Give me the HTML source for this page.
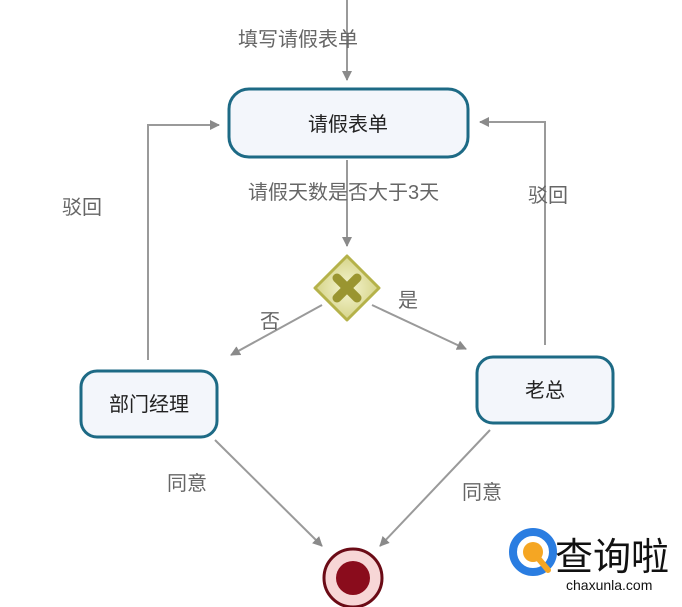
<!DOCTYPE html>
<html><head><meta charset="utf-8"><style>
html,body{margin:0;padding:0;background:#fff;}
svg{display:block;font-family:"Liberation Sans","Noto Sans CJK SC",sans-serif;}
</style></head><body>
<svg width="682" height="607" viewBox="0 0 682 607">
<defs>
<marker id="a" markerWidth="10" markerHeight="10" refX="9" refY="5" orient="auto" markerUnits="userSpaceOnUse">
<path d="M0,0 L10,5 L0,10 z" fill="#8a8a8a"/></marker>
<radialGradient id="g" cx="50%" cy="50%" r="50%"><stop offset="0" stop-color="#f5f5d0"/><stop offset="1" stop-color="#d6d48a"/></radialGradient>
</defs>
<g stroke="#9a9a9a" stroke-width="2" fill="none" marker-end="url(#a)">
<line x1="347" y1="0" x2="347" y2="80"/>
<line x1="347" y1="160" x2="347" y2="246"/>
<line x1="322" y1="305" x2="231" y2="355"/>
<line x1="372" y1="305" x2="466" y2="349"/>
<polyline points="148,360 148,125 219,125"/>
<polyline points="545,345 545,122 480,122"/>
<line x1="215" y1="440" x2="322" y2="546"/>
<line x1="490" y1="430" x2="380" y2="546"/>
</g>
<rect x="229" y="89" width="239" height="68" rx="20" fill="#f3f6fb" stroke="#1d6a85" stroke-width="3"/>
<rect x="81" y="371" width="136" height="66" rx="16" fill="#f3f6fb" stroke="#1d6a85" stroke-width="3"/>
<rect x="477" y="357" width="136" height="66" rx="16" fill="#f3f6fb" stroke="#1d6a85" stroke-width="3"/>
<polygon points="347,256 379,288 347,320 315,288" fill="url(#g)" stroke="#b5b24a" stroke-width="3" stroke-linejoin="round"/>
<g stroke="#9a9530" stroke-width="9" stroke-linecap="round"><line x1="337" y1="278" x2="357" y2="298"/><line x1="357" y1="278" x2="337" y2="298"/></g>
<circle cx="353" cy="578" r="29" fill="#f7d6d6" stroke="#6b0b16" stroke-width="3"/>
<circle cx="353" cy="578" r="17" fill="#8a0c1c"/>
<g font-size="20" fill="#222" text-anchor="middle">
<text x="348" y="131">请假表单</text>
<text x="149" y="411">部门经理</text>
<text x="545" y="397">老总</text>
</g>
<g font-size="20" fill="#666">
<text x="238" y="46">填写请假表单</text>
<text x="248" y="199">请假天数是否大于3天</text>
<text x="62" y="214">驳回</text>
<text x="528" y="202">驳回</text>
<text x="260" y="328">否</text>
<text x="398" y="307">是</text>
<text x="167" y="490">同意</text>
<text x="462" y="499">同意</text>
</g>
<circle cx="533" cy="552" r="20" fill="none" stroke="#2a7de1" stroke-width="8"/>
<circle cx="533" cy="552" r="10" fill="#f5a623"/>
<line x1="538" y1="558" x2="548" y2="570" stroke="#f5a623" stroke-width="6" stroke-linecap="round"/>
<text x="555" y="570" font-size="38" fill="#111">查询啦</text>
<text x="566" y="590" font-size="14" fill="#111">chaxunla.com</text>
</svg>
</body></html>
